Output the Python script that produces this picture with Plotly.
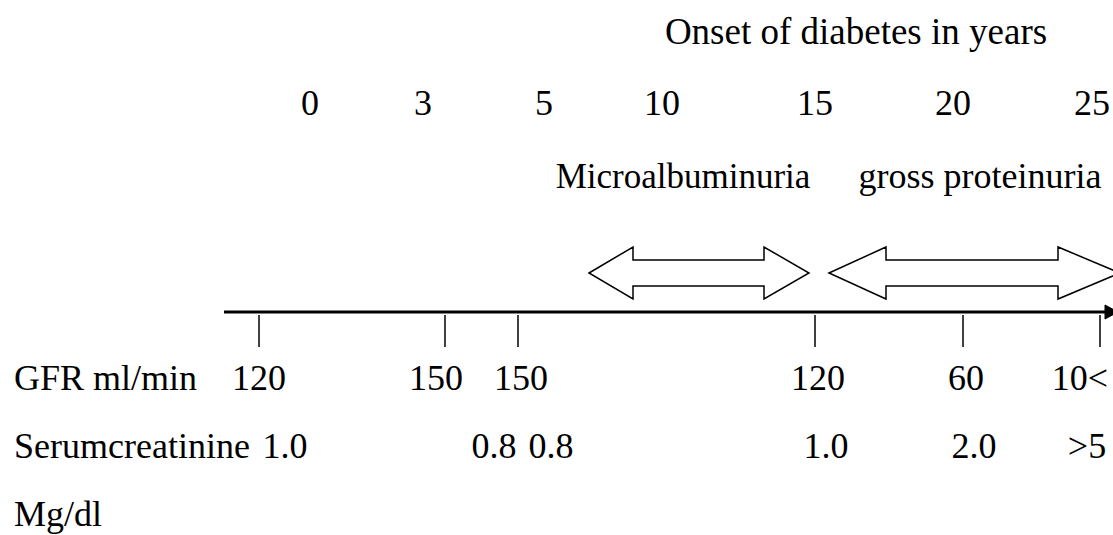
import plotly.graph_objects as go

# ---- data (labels) ----
title_text = "Onset of diabetes in years"
years = ["0", "3", "5", "10", "15", "20", "25"]
stage_labels = ["Microalbuminuria", "gross proteinuria"]
gfr_label = "GFR ml/min"
gfr_values = ["120", "150", "150", "120", "60", "10<"]
creat_label = "Serumcreatinine"
creat_values = ["1.0", "0.8", "0.8", "1.0", "2.0", ">5"]
unit_label = "Mg/dl"

# ---- layout positions (page pixel space) ----
W, H = 1113, 535
year_x = [310, 423, 544, 662, 815, 953, 1092]
year_y = 106
title_x, title_y = 856, 35
stage_x = [683, 980]
stage_sizes = [35, 36]
stage_y = 179
tick_x = [259, 445, 518, 815, 963, 1100]
axis_y = 312
gfr_x = [259, 436, 521, 818, 966, 1080]
gfr_y = 381
creat_x = [285, 494, 551, 826, 974, 1087]
creat_y = 449
unit_y = 517
label_left = 14
arrows = [(589, 633, 764, 809), (829, 886, 1058, 1120)]
arrow_yc, head_h, shaft_h = 273, 26, 13

FONT = dict(family="Liberation Serif, Times New Roman, serif", size=36, color="black")

fig = go.Figure()

def text_trace(xs, ys, texts, pos="middle center", size=36):
    f = dict(FONT)
    f["size"] = size
    fig.add_trace(go.Scatter(x=xs, y=ys, text=texts, mode="text",
                             textposition=pos, textfont=f, cliponaxis=False,
                             hoverinfo="skip", showlegend=False))

text_trace([title_x], [title_y], [title_text], size=37)
text_trace(year_x, [year_y] * len(years), years)
for sx, st, ss in zip(stage_x, stage_labels, stage_sizes):
    text_trace([sx], [stage_y], [st], size=ss)
text_trace(gfr_x, [gfr_y] * len(gfr_values), gfr_values)
text_trace(creat_x, [creat_y] * len(creat_values), creat_values)
text_trace([label_left] * 3, [gfr_y, creat_y, unit_y],
           [gfr_label, creat_label, unit_label], pos="middle right")

shapes = []
shapes.append(dict(type="line", xref="x", yref="y", x0=224, x1=1106, y0=axis_y, y1=axis_y,
                   line=dict(color="black", width=3)))
shapes.append(dict(type="path", xref="x", yref="y",
                   path=f"M1105,{axis_y-7} L1118,{axis_y} L1105,{axis_y+7} Z",
                   fillcolor="black", line=dict(color="black", width=1)))
for tx in tick_x:
    shapes.append(dict(type="line", xref="x", yref="y", x0=tx, x1=tx,
                       y0=axis_y + 3, y1=axis_y + 35,
                       line=dict(color="black", width=1.5)))
for tl, bl, br, tr in arrows:
    yc = arrow_yc
    p = (f"M{tl},{yc} L{bl},{yc-head_h} L{bl},{yc-shaft_h} L{br},{yc-shaft_h} "
         f"L{br},{yc-head_h} L{tr},{yc} L{br},{yc+head_h} L{br},{yc+shaft_h} "
         f"L{bl},{yc+shaft_h} L{bl},{yc+head_h} Z")
    shapes.append(dict(type="path", xref="x", yref="y", path=p,
                       fillcolor="white", line=dict(color="black", width=1.5)))

fig.update_layout(
    width=W, height=H,
    margin=dict(l=0, r=0, t=0, b=0),
    paper_bgcolor="white", plot_bgcolor="white",
    xaxis=dict(range=[0, W], visible=False, fixedrange=True),
    yaxis=dict(range=[H, 0], visible=False, fixedrange=True),
    shapes=shapes,
    showlegend=False,
    hovermode=False,
)

fig.write_html(
    "out.html",
    config={"displayModeBar": False, "staticPlot": True},
    post_script="document.body.style.margin='0';document.body.style.overflow='hidden';",
)
